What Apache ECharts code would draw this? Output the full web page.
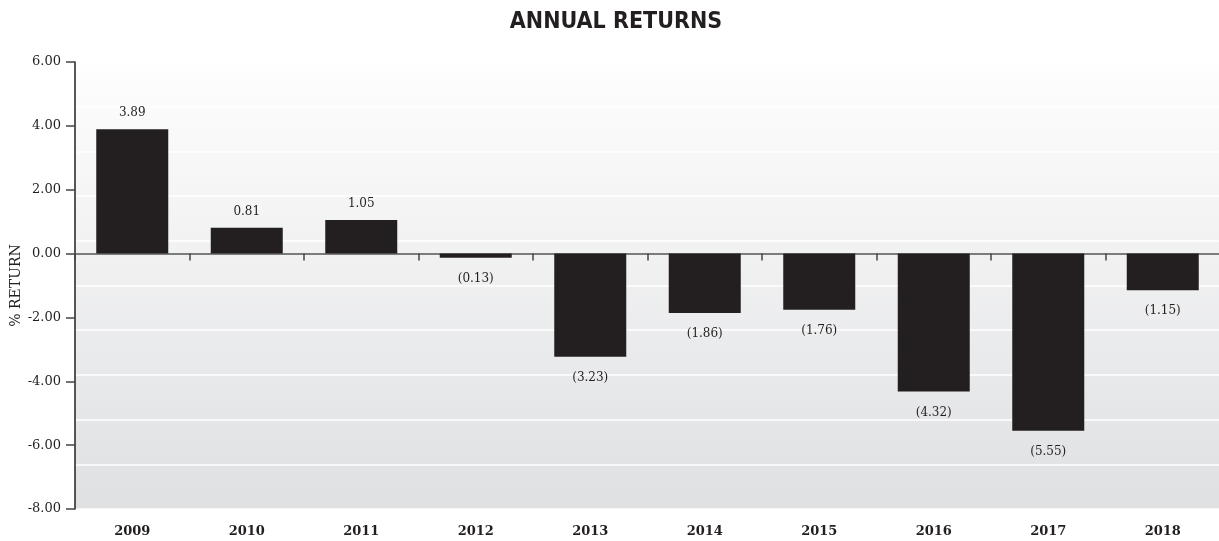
<!DOCTYPE html>
<html>
<head>
<meta charset="utf-8">
<script src="https://cdn.jsdelivr.net/npm/echarts@6/dist/echarts.min.js"></script>
<style>
html,body{margin:0;padding:0;background:#fff;}
#chart{width:1219px;height:541px;}
</style>
</head>
<body>
<div id="chart"></div>
<script>
const categories = ['2009','2010','2011','2012','2013','2014','2015','2016','2017','2018'];
const returns = [3.89, 0.81, 1.05, -0.13, -3.23, -1.86, -1.76, -4.32, -5.55, -1.15];
const yTicks = {min: -8, max: 6, interval: 2};
const title = 'ANNUAL RETURNS';
const yName = '% RETURN';

function fmt(v){ return v >= 0 ? v.toFixed(2) : '(' + Math.abs(v).toFixed(2) + ')'; }

const serif = '"DejaVu Serif", serif';
const chart = echarts.init(document.getElementById('chart'));
chart.setOption({
  animation: false,
  backgroundColor: '#ffffff',
  title: {
    text: title, left: 611, textAlign: 'center', top: 6,
    textStyle: {fontFamily: '"DejaVu Sans Condensed","DejaVu Sans",sans-serif', fontWeight: 'bold', fontSize: 23, color: '#231f20'}
  },
  grid: {
    left: 75, top: 62, width: 1145, height: 447,
    outerBoundsMode: 'none', containLabel: false,
    show: true, borderWidth: 0,
    backgroundColor: new echarts.graphic.LinearGradient(0, 0, 0, 1, [
      {offset: 0, color: '#fefefe'},
      {offset: 1, color: '#dfe0e2'}
    ])
  },
  xAxis: [
    {
      type: 'category', data: categories, position: 'bottom',
      axisLine: {onZero: true, lineStyle: {color: '#555', width: 1.5}},
      axisTick: {show: true, length: 7, inside: false, lineStyle: {color: '#444', width: 1.5}},
      axisLabel: {show: false},
      splitLine: {show: false}
    },
    {
      type: 'category', data: categories, position: 'bottom',
      axisLine: {show: false, onZero: false},
      axisTick: {show: false},
      axisLabel: {show: true, margin: 16, fontFamily: serif, fontWeight: 'bold', fontSize: 13, color: '#231f20'}
    }
  ],
  yAxis: [
    {
      type: 'value', min: yTicks.min, max: yTicks.max, interval: yTicks.interval,
      name: yName, nameLocation: 'middle', nameGap: 52, nameRotate: 90, nameMoveOverlap: false,
      nameTextStyle: {fontFamily: serif, fontSize: 14, color: '#231f20'},
      axisLine: {show: true, lineStyle: {color: '#231f20', width: 1.5}},
      axisTick: {show: true, length: 9, lineStyle: {color: '#444', width: 1.5}},
      axisLabel: {margin: 14, fontFamily: serif, fontSize: 13, color: '#231f20', formatter: v => v.toFixed(2)},
      splitLine: {show: false}
    },
    {
      type: 'value', min: 0, max: 14, interval: 1.4, position: 'left',
      axisLine: {show: false}, axisTick: {show: false}, axisLabel: {show: false},
      splitLine: {show: true, lineStyle: {color: '#ffffff', width: 1.5}}
    }
  ],
  series: [{
    type: 'bar', xAxisIndex: 0, yAxisIndex: 0,
    barWidth: 72,
    itemStyle: {color: '#231f20'},
    data: returns.map(v => ({
      value: v,
      label: {show: true, position: v >= 0 ? 'top' : 'bottom', distance: v >= 0 ? 10 : 15,
        fontFamily: serif, fontSize: 12, color: '#231f20', formatter: p => fmt(p.value)}
    })),
    z: 3
  }]
});
</script>
</body>
</html>
